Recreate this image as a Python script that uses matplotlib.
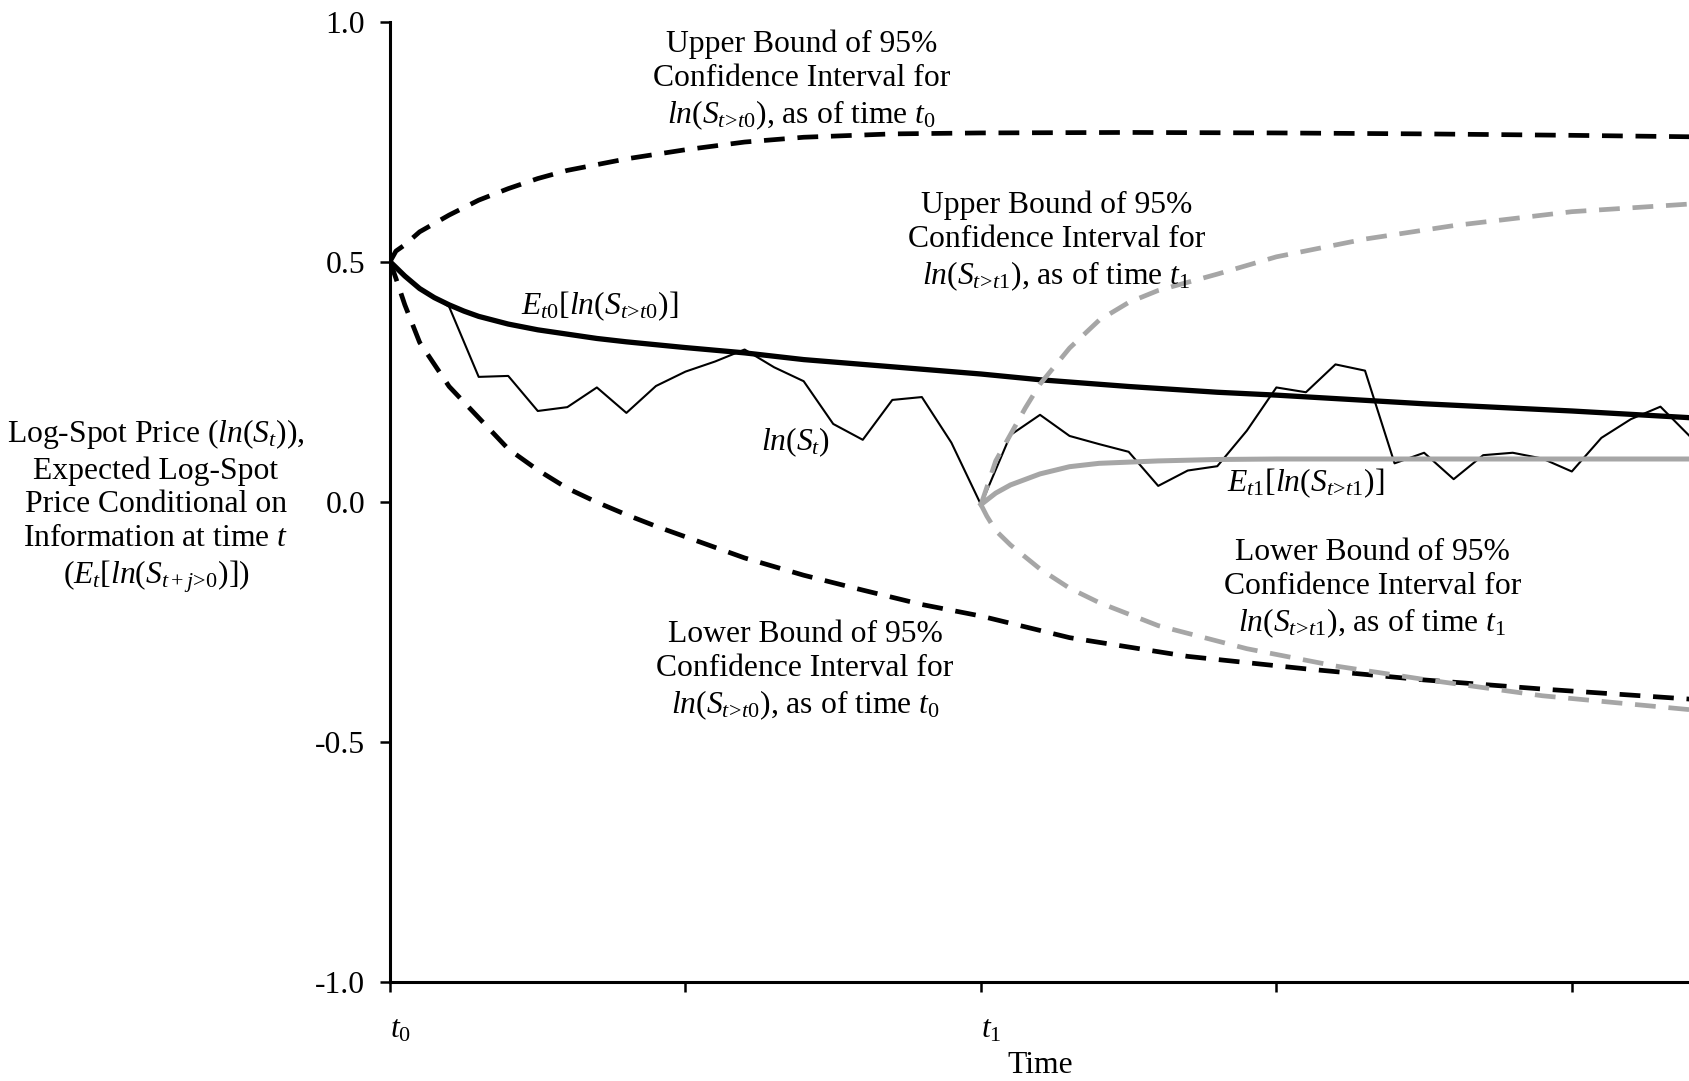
"""
Log-spot price path with expected paths and 95% confidence bounds
as of t0 (black) and as of t1 (grey).
"""

import matplotlib.pyplot as plt

plt.rcParams["font.family"] = ["Liberation Serif", "DejaVu Serif"]
plt.rcParams["mathtext.fontset"] = "custom"
plt.rcParams["mathtext.rm"] = "Liberation Serif"
plt.rcParams["mathtext.it"] = "Liberation Serif:italic"
plt.rcParams["mathtext.bf"] = "Liberation Serif:bold"

# --- data (time in tick units, t1 = 2) ---
spot_t = [i / 10 for i in range(45)]
spot_v = [0.500, 0.445, 0.406, 0.260, 0.262, 0.189, 0.197, 0.238, 0.185, 0.241,
          0.271, 0.292, 0.317, 0.280, 0.251, 0.162, 0.129, 0.212, 0.218, 0.123,
          -0.006, 0.139, 0.181, 0.137, 0.120, 0.104, 0.033, 0.065, 0.074, 0.148,
          0.238, 0.228, 0.286, 0.273, 0.080, 0.102, 0.047, 0.097, 0.102, 0.090,
          0.063, 0.133, 0.172, 0.198, 0.136]

e0_t = [0, 0.02, 0.05, 0.1, 0.15, 0.2, 0.25, 0.3, 0.4, 0.5, 0.6, 0.7, 0.8,
        1.0, 1.2, 1.4, 1.7, 2.0, 2.2, 2.5, 2.8, 3.0, 3.5, 4.0, 4.4]
e0_v = [0.5, 0.488, 0.47, 0.444, 0.425, 0.41, 0.397, 0.386, 0.370, 0.358,
        0.349, 0.340, 0.333, 0.321, 0.31, 0.296, 0.281, 0.266, 0.254, 0.24,
        0.228, 0.222, 0.204, 0.189, 0.175]

up0_t = [0, 0.02, 0.05, 0.1, 0.2, 0.3, 0.4, 0.5, 0.6, 0.8, 1.0, 1.2, 1.4,
         1.7, 2.0, 2.5, 3.0, 3.5, 4.0, 4.4]
up0_v = [0.5, 0.522, 0.535, 0.562, 0.597, 0.628, 0.652, 0.673, 0.69, 0.714,
         0.733, 0.749, 0.759, 0.766, 0.768, 0.769, 0.768, 0.766, 0.763, 0.760]

lo0_t = [0, 0.02, 0.05, 0.1, 0.2, 0.3, 0.4, 0.5, 0.6, 0.7, 0.8, 0.9, 1.0,
         1.2, 1.4, 1.6, 1.8, 2.0, 2.3, 2.7, 3.1, 3.5, 3.9, 4.4]
lo0_v = [0.5, 0.465, 0.41, 0.332, 0.24, 0.175, 0.11, 0.066, 0.028, -0.001,
         -0.027, -0.051, -0.073, -0.117, -0.153, -0.184, -0.214, -0.238,
         -0.283, -0.322, -0.348, -0.371, -0.39, -0.411]

e1_t = [2.0, 2.05, 2.1, 2.2, 2.3, 2.4, 2.6, 2.8, 3.0, 4.4]
e1_v = [-0.006, 0.018, 0.035, 0.058, 0.073, 0.08, 0.085, 0.088, 0.089, 0.089]

up1_t = [2.0, 2.02, 2.05, 2.1, 2.15, 2.2, 2.3, 2.4, 2.5, 2.6, 2.8, 3.0, 3.3,
         3.6, 4.0, 4.4]
up1_v = [-0.006, 0.03, 0.085, 0.14, 0.195, 0.245, 0.32, 0.378, 0.415, 0.44,
         0.474, 0.51, 0.547, 0.575, 0.604, 0.62]

lo1_t = [2.0, 2.02, 2.05, 2.1, 2.2, 2.3, 2.4, 2.6, 2.9, 3.2, 3.5, 3.9, 4.4]
lo1_v = [-0.006, -0.03, -0.06, -0.09, -0.14, -0.18, -0.21, -0.258, -0.306,
         -0.342, -0.37, -0.404, -0.433]

y_ticks = [-1.0, -0.5, 0.0, 0.5, 1.0]
y_ticklabels = ["-1.0", "-0.5", "0.0", "0.5", "1.0"]
x_ticks = [0, 1, 2, 3, 4]
x_ticklabels = [r"$t_0$", "", r"$t_1$", "", ""]

BLACK = "#000000"
GREY = "#a6a6a6"
FS = 22.8
LS = 1.22
DASH = (4.4, 2.7)

fig = plt.figure(figsize=(16.9, 10.81), dpi=100)
ax = fig.add_axes([0.2308, 0.0916, 0.7692, 0.8885])

ax.plot(spot_t, spot_v, color=BLACK, lw=1.5, zorder=3)
ax.plot(e0_t, e0_v, color=BLACK, lw=3.8, zorder=4)
ax.plot(up0_t, up0_v, color=BLACK, lw=3.4, dashes=DASH, zorder=4)
ax.plot(lo0_t, lo0_v, color=BLACK, lw=3.4, dashes=DASH, zorder=4)
ax.plot(e1_t, e1_v, color=GREY, lw=3.6, zorder=5)
ax.plot(up1_t, up1_v, color=GREY, lw=3.4, dashes=DASH, zorder=5)
ax.plot(lo1_t, lo1_v, color=GREY, lw=3.4, dashes=DASH, zorder=5)

ax.set_xlim(0, 4.4)
ax.set_ylim(-1.0, 1.0)
for side in ("top", "right"):
    ax.spines[side].set_visible(False)
for side in ("left", "bottom"):
    ax.spines[side].set_linewidth(2.2)

ax.set_yticks(y_ticks)
ax.set_yticklabels(y_ticklabels, fontsize=FS)
ax.set_xticks(x_ticks)
ax.set_xticklabels(x_ticklabels, fontsize=FS, ha="left")
ax.tick_params(axis="y", direction="out", length=7, width=1.8, pad=11)
ax.tick_params(axis="x", direction="out", length=7, width=1.8, pad=17)
ax.set_xlabel("Time", fontsize=FS, labelpad=5)

fig.text(0.0923, 0.5317,
         "Log-Spot Price ($ln$($S_t$)),\nExpected Log-Spot\n"
         "Price Conditional on\nInformation at time $t$\n"
         r"($E_t$[$ln$($S_{t+j\!>\!0}$)])",
         fontsize=FS, ha="center", va="center", multialignment="center",
         linespacing=LS)

GT0 = r"$ln$($S_{t\!>\!t0}$), as of time $t_0$"
GT1 = r"$ln$($S_{t\!>\!t1}$), as of time $t_1$"
notes = [
    (1.392, 0.876, "Upper Bound of 95%\nConfidence Interval for\n" + GT0),
    (2.255, 0.542, "Upper Bound of 95%\nConfidence Interval for\n" + GT1),
    (0.711, 0.408, r"$E_{t0}$[$ln$($S_{t\!>\!t0}$)]"),
    (1.371, 0.124, "$ln$($S_t$)"),
    (3.099, 0.039, r"$E_{t1}$[$ln$($S_{t\!>\!t1}$)]"),
    (3.325, -0.182, "Lower Bound of 95%\nConfidence Interval for\n" + GT1),
    (1.405, -0.353, "Lower Bound of 95%\nConfidence Interval for\n" + GT0),
]
for x, y, s in notes:
    ax.text(x, y, s, fontsize=FS, ha="center", va="center",
            multialignment="center", linespacing=LS, zorder=6)

fig.savefig("out.png", dpi=100)
